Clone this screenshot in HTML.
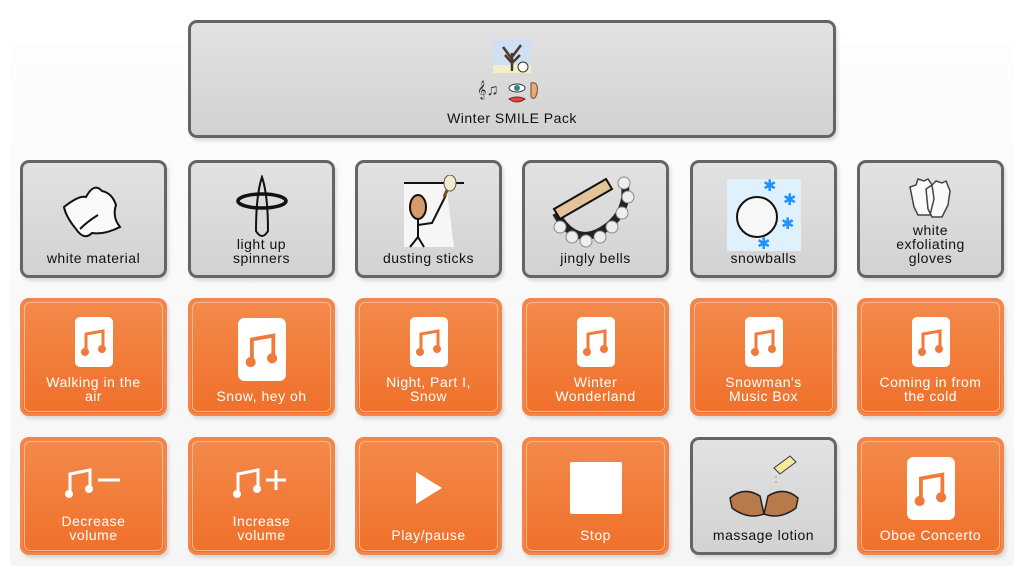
<!DOCTYPE html>
<html><head><meta charset="utf-8"><style>
body{margin:0;width:1024px;height:576px;background:#fff;position:relative;overflow:hidden;font-family:"Liberation Sans",sans-serif;}
.panel{position:absolute;left:10px;top:45px;width:1004px;height:521px;background:linear-gradient(#fdfdfd,#f5f5f5);}
.c{position:absolute;width:147px;height:118px;box-sizing:border-box;border-radius:9px;box-shadow:2px 3px 3px rgba(0,0,0,0.12);}
.g{border:3px solid #656565;background:linear-gradient(#e2e2e2,#d2d2d2);color:#111;}
.o{border:3px solid #f38548;background:linear-gradient(#f38a4b,#f0702a);color:#fff;}
.o::after{content:"";position:absolute;left:1px;top:1px;right:1px;bottom:1px;border:1.5px solid #f9b690;border-radius:6px;}
.t{position:absolute;left:0;right:0;bottom:10px;text-align:center;font-size:14px;line-height:14px;letter-spacing:0.5px;}
.i{position:absolute;left:50%;transform:translateX(-50%);}
</style></head><body>
<div class="panel"></div>

<div class="c g" style="left:188px;top:20px;width:648px;height:118px;">
 <svg class="i" style="top:14px" width="70" height="70" viewBox="0 0 70 70">
  <rect x="16" y="2" width="38" height="34" rx="4" fill="#cfe0f5"/><rect x="16" y="28" width="38" height="8" fill="#f3f0c8"/>
  <path d="M35 34 V16 M35 22 L26 10 M35 20 L44 8 M35 26 L28 18 M35 26 L43 18" stroke="#4b3a2a" stroke-width="2.5" fill="none"/>
  <circle cx="46" cy="30" r="5" fill="#fff" stroke="#333"/>
  <g font-size="16" fill="#333"><text x="0" y="58">𝄞♫</text></g>
  <ellipse cx="40" cy="51" rx="8" ry="4" fill="#fff" stroke="#333"/><circle cx="40" cy="51" r="3" fill="#2a8a8a"/>
  <path d="M32 62 Q40 68 48 62 Q40 58 32 62Z" fill="#d44" stroke="#822"/>
  <path d="M54 46 Q62 44 60 56 Q58 64 54 60Z" fill="#e8a97b" stroke="#7a4a2a"/>
 </svg>
 <div class="t" style="bottom:10px">Winter SMILE Pack</div>
</div>

<!-- row 1 -->
<div class="c g" style="left:20px;top:160px;">
 <svg class="i" style="top:14px" width="80" height="70" viewBox="0 0 80 70"><path d="M10 30 Q25 18 32 20 Q40 5 48 14 Q58 16 62 28 Q58 40 66 50 Q50 58 38 56 Q30 64 22 52 Q12 40 10 30Z" fill="#fafafa" stroke="#111" stroke-width="2"/><path d="M26 52 Q34 44 44 38" stroke="#111" stroke-width="2" fill="none"/></svg>
 <div class="t">white material</div></div>
<div class="c g" style="left:188px;top:160px;">
 <svg class="i" style="top:12px" width="60" height="66" viewBox="0 0 60 66"><path d="M30 2 Q36 20 36 56 Q30 66 24 56 Q24 20 30 2Z" fill="none" stroke="#111" stroke-width="2"/><ellipse cx="30" cy="26" rx="24" ry="7" fill="none" stroke="#111" stroke-width="3.5"/></svg>
 <div class="t">light up<br>spinners</div></div>
<div class="c g" style="left:355px;top:160px;">
 <svg class="i" style="top:12px" width="70" height="74" viewBox="0 0 70 74"><path d="M10 8 L52 8 L60 72 L10 72Z" fill="#f8f6f4"/><line x1="10" y1="8" x2="70" y2="8" stroke="#111" stroke-width="2"/><ellipse cx="24" cy="32" rx="8" ry="12" fill="#d79a6a" stroke="#111" stroke-width="2"/><path d="M24 44 V62 L16 72 M24 62 L30 72 M24 50 L38 48 L52 20" stroke="#111" stroke-width="2" fill="none"/><path d="M50 22 L58 4" stroke="#7a4a1a" stroke-width="3"/><ellipse cx="56" cy="8" rx="6" ry="8" fill="#f4e9cc" stroke="#555"/></svg>
 <div class="t">dusting sticks</div></div>
<div class="c g" style="left:522px;top:160px;">
 <svg class="i" style="top:12px" width="96" height="76" viewBox="0 0 96 76"><path d="M8 38 Q30 78 64 48 Q82 30 76 6" stroke="#222" stroke-width="8" fill="none"/><path d="M6 34 L58 4 L64 14 L12 44Z" fill="#e5c39a" stroke="#111" stroke-width="2"/><g fill="#eee" stroke="#888"><circle cx="12" cy="52" r="6"/><circle cx="24" cy="62" r="6"/><circle cx="38" cy="66" r="6"/><circle cx="52" cy="62" r="6"/><circle cx="64" cy="52" r="6"/><circle cx="74" cy="38" r="6"/><circle cx="80" cy="22" r="6"/><circle cx="76" cy="8" r="6"/></g></svg>
 <div class="t">jingly bells</div></div>
<div class="c g" style="left:690px;top:160px;">
 <div class="i" style="top:16px;width:74px;height:72px;background:#dff1fd;"></div>
 <svg class="i" style="top:16px" width="74" height="72" viewBox="0 0 74 72"><circle cx="30" cy="38" r="20" fill="#f7f7f7" stroke="#111" stroke-width="2"/><g fill="#1e90ff" font-size="16"><text x="36" y="12">✱</text><text x="56" y="26">✱</text><text x="54" y="50">✱</text><text x="30" y="70">✱</text></g></svg>
 <div class="t">snowballs</div></div>
<div class="c g" style="left:857px;top:160px;">
 <svg class="i" style="top:14px" width="50" height="42" viewBox="0 0 50 42"><path d="M8 30 L4 10 L10 8 L12 2 L18 4 L22 2 L26 8 L28 22 L24 38 L12 38Z M22 32 L20 12 L26 8 L30 4 L36 6 L40 4 L44 14 L42 28 L36 40 L26 40Z" fill="#fafafa" stroke="#444" stroke-width="1.5"/></svg>
 <div class="t">white<br>exfoliating<br>gloves</div></div>

<!-- row 2 -->
<svg width="0" height="0" style="position:absolute"><defs><symbol id="n" viewBox="0 0 38 50"><rect width="38" height="50" rx="5" fill="#fff"/><path d="M11 35 V17 L28 14 V32" stroke="#f07a3a" stroke-width="3" fill="none"/><circle cx="10" cy="35" r="4" fill="#f07a3a"/><circle cx="27" cy="32" r="4" fill="#f07a3a"/></symbol></defs></svg>
<div class="c o" style="left:20px;top:298px;"><svg class="i" style="top:16px" width="38" height="50"><use href="#n"/></svg><div class="t">Walking in the<br>air</div></div>
<div class="c o" style="left:188px;top:298px;"><svg class="i" style="top:17px" width="48" height="63" viewBox="0 0 38 50"><use href="#n"/></svg><div class="t">Snow, hey oh</div></div>
<div class="c o" style="left:355px;top:298px;"><svg class="i" style="top:16px" width="38" height="50"><use href="#n"/></svg><div class="t">Night, Part I,<br>Snow</div></div>
<div class="c o" style="left:522px;top:298px;"><svg class="i" style="top:16px" width="38" height="50"><use href="#n"/></svg><div class="t">Winter<br>Wonderland</div></div>
<div class="c o" style="left:690px;top:298px;"><svg class="i" style="top:16px" width="38" height="50"><use href="#n"/></svg><div class="t">Snowman's<br>Music Box</div></div>
<div class="c o" style="left:857px;top:298px;"><svg class="i" style="top:16px" width="38" height="50"><use href="#n"/></svg><div class="t">Coming in from<br>the cold</div></div>

<!-- row 3 -->
<div class="c o" style="left:20px;top:437px;"><svg class="i" style="top:24px" width="60" height="36" viewBox="0 0 60 36"><path d="M6 30 V10 L26 6 V24" stroke="#fff" stroke-width="3" fill="none"/><circle cx="5" cy="30" r="4" fill="#fff"/><circle cx="25" cy="25" r="4" fill="#fff"/><line x1="34" y1="16" x2="56" y2="16" stroke="#fff" stroke-width="3"/></svg><div class="t">Decrease<br>volume</div></div>
<div class="c o" style="left:188px;top:437px;"><svg class="i" style="top:24px" width="60" height="36" viewBox="0 0 60 36"><path d="M6 30 V10 L26 6 V24" stroke="#fff" stroke-width="3" fill="none"/><circle cx="5" cy="30" r="4" fill="#fff"/><circle cx="25" cy="25" r="4" fill="#fff"/><path d="M34 16 H54 M44 6 V26" stroke="#fff" stroke-width="3"/></svg><div class="t">Increase<br>volume</div></div>
<div class="c o" style="left:355px;top:437px;"><svg class="i" style="top:30px" width="30" height="36" viewBox="0 0 30 36"><path d="M2 2 L28 18 L2 34Z" fill="#fff"/></svg><div class="t">Play/pause</div></div>
<div class="c o" style="left:522px;top:437px;"><div class="i" style="top:22px;width:52px;height:52px;background:#fff;border-radius:2px"></div><div class="t">Stop</div></div>
<div class="c g" style="left:690px;top:437px;">
 <svg class="i" style="top:12px" width="80" height="70" viewBox="0 0 80 70"><path d="M50 16 L66 4 L72 10 L56 22Z" fill="#f5e9a0" stroke="#333"/><path d="M52 24 V34" stroke="#999" stroke-dasharray="2 3"/><path d="M6 46 Q20 34 36 44 L40 62 Q24 68 8 56Z" fill="#b87a4a" stroke="#222" stroke-width="1.5"/><path d="M74 46 Q60 34 44 44 L40 62 Q56 68 72 56Z" fill="#b87a4a" stroke="#222" stroke-width="1.5"/></svg>
 <div class="t">massage lotion</div></div>
<div class="c o" style="left:857px;top:437px;"><svg class="i" style="top:17px" width="48" height="63" viewBox="0 0 38 50"><use href="#n"/></svg><div class="t">Oboe Concerto</div></div>
</body></html>
